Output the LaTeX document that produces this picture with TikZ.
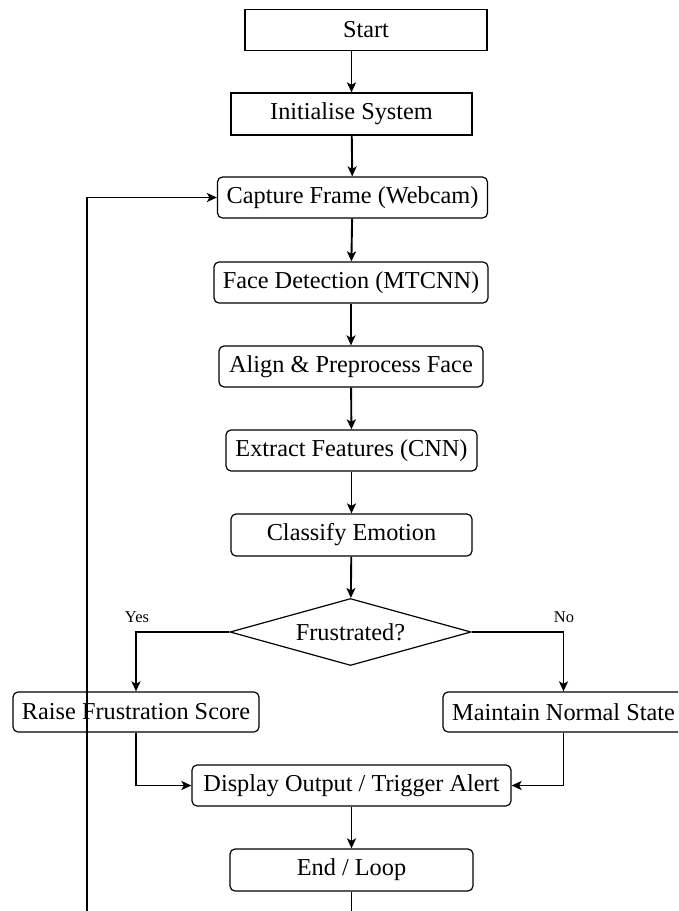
\documentclass[tikz,border=0pt]{standalone}
\usepackage{fontspec}
\setmainfont{Liberation Serif}
\usetikzlibrary{shapes.geometric,arrows.meta}
\tikzset{
  boxsq/.style={draw, line width=1.2pt, minimum height=41pt, inner sep=0pt, align=center,
    font=\fontsize{24.3}{29}\selectfont},
  boxrd/.style={boxsq, rounded corners=5pt},
  decis/.style={draw, line width=1.2pt, diamond, aspect=3.6, minimum width=241pt, minimum height=67pt,
    inner sep=0pt, font=\fontsize{24.3}{29}\selectfont},
  lbl/.style={inner sep=0pt, font=\fontsize{16.5}{20}\selectfont},
  arr/.style={line width=1.9pt, -{Stealth[length=10pt,width=9pt,inset=2.5pt]}},
}
\begin{document}
\begin{tikzpicture}[x=1pt,y=-1pt]
\useasboundingbox (0,0) rectangle (678,911);
\fill[white] (0,0) rectangle (678,911);
\clip (0,0) rectangle (678,911);

\node[boxsq, minimum width=242pt] (start) at (366,30) {Start};
\node[boxsq, minimum width=241pt, minimum height=42pt] (init) at (351.5,114) {Initialise System};
\node[boxrd, minimum width=270pt] (cap) at (352.5,197.5) {Capture Frame (Webcam)};
\node[boxrd, minimum width=274pt] (face) at (351,282.5) {Face Detection (MTCNN)};
\node[boxrd, minimum width=264pt] (align) at (351,366.5) {Align \& Preprocess Face};
\node[boxrd, minimum width=251pt] (extract) at (351.5,450.5) {Extract Features (CNN)};
\node[boxrd, minimum width=241pt, minimum height=42pt] (classify) at (351.5,535) {Classify Emotion};
\node[decis] (dec) at (350.5,632) {Frustrated?};
\node[boxrd, minimum width=246pt, minimum height=40pt] (raise) at (136,712) {Raise Frustration Score};
\node[boxrd, minimum width=241pt, minimum height=40pt] (maint) at (563.5,712) {Maintain Normal State};
\node[boxrd, minimum width=319pt] (disp) at (351.5,785.5) {Display Output / Trigger Alert};
\node[boxrd, minimum width=243pt, minimum height=42pt] (endl) at (351.5,870) {End / Loop};

\node[lbl] (yes) at (137,617) {Yes};
\node[lbl] (no) at (564,617) {No};

\draw[arr] (start.south -| init.north) -- (init.north);
\draw[arr] (init) -- (cap);
\draw[arr] (cap) -- (face);
\draw[arr] (face) -- (align);
\draw[arr] (align) -- (extract);
\draw[arr] (extract) -- (classify);
\draw[arr] (classify) -- (dec);
\draw[arr] (dec.west) -| (raise.north);
\draw[arr] (dec.east) -| (maint.north);
\draw[arr] (raise.south) |- (disp.west);
\draw[arr] (maint.south) |- (disp.east);
\draw[arr] (disp) -- (endl);

\coordinate (lpA) at (351.5,935);
\coordinate (lpB) at (87,935);
\draw[arr] (endl.south) -- (lpA) -- (lpB) |- (cap.west);
\end{tikzpicture}
\end{document}
